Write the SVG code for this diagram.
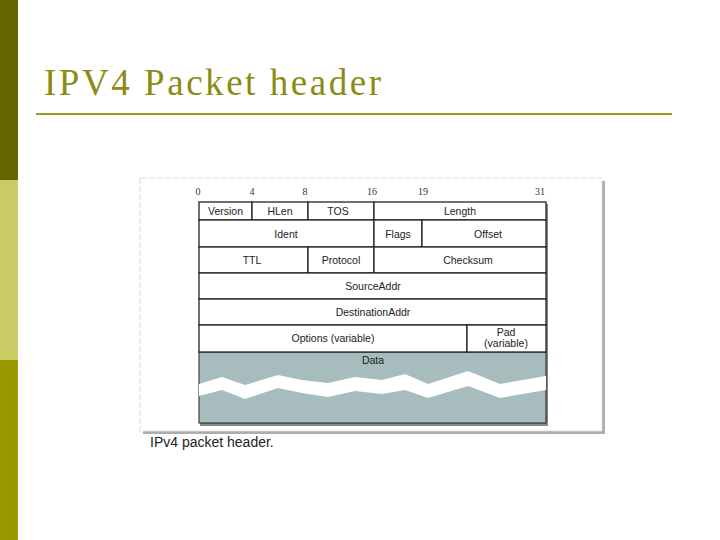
<svg xmlns="http://www.w3.org/2000/svg" width="720" height="540" viewBox="0 0 720 540">
<style>
.t{font-family:"Liberation Sans",Arial,sans-serif;font-size:10.5px;fill:#222;text-anchor:middle}
.n{font-family:"Liberation Serif",serif;font-size:10px;fill:#333;text-anchor:middle}
.c{fill:#fff;stroke:#222;stroke-width:1.3}
</style>
<rect width="720" height="540" fill="#fff"/>
<rect x="0" y="0" width="18" height="180" fill="#666600"/>
<rect x="0" y="180" width="18" height="180" fill="#cccc66"/>
<rect x="0" y="360" width="18" height="180" fill="#999900"/>
<text x="44" y="95" font-family="Liberation Serif,serif" font-size="37" fill="#8c8c14" textLength="337">IPV4 Packet header</text>
<line x1="36" y1="114" x2="672" y2="114" stroke="#9a9a20" stroke-width="2"/>
<g id="frame">
<rect x="143" y="181" width="462" height="253" fill="#777" opacity="0.6"/>
<rect x="140" y="178" width="462" height="253" fill="#fff" stroke="#ddd" stroke-dasharray="6 2"/>
<rect x="200" y="204" width="348" height="222" fill="#888"/>
</g>
<g id="numbers">
<text class="n" x="198" y="195">0</text><text class="n" x="252" y="195">4</text><text class="n" x="305" y="195">8</text>
<text class="n" x="372" y="195">16</text><text class="n" x="423" y="195">19</text><text class="n" x="540" y="195">31</text>
</g>
<g id="data">
<rect x="199" y="352" width="347" height="71" fill="#a7bcbc" stroke="#222"/>
<polygon points="199,384 222,377 245,385 278,375 302,380 328,383 355,377 382,380 405,374 428,384 468,371 500,384 546,376 546,390 500,398 468,386 428,398 405,390 382,394 355,391 328,397 302,393 278,388 245,399 222,390 199,396" fill="#fff"/>
<text class="t" x="373" y="364">Data</text>
</g>
<g id="row1">
<rect class="c" x="199" y="202" width="53" height="18"/><text class="t" x="225.5" y="215">Version</text>
<rect class="c" x="252" y="202" width="56" height="18"/><text class="t" x="280" y="215">HLen</text>
<rect class="c" x="308" y="202" width="66" height="18"/><text class="t" x="338" y="215">TOS</text>
<rect class="c" x="374" y="202" width="172" height="18"/><text class="t" x="460" y="215">Length</text>
</g>
<g id="row2">
<rect class="c" x="199" y="220" width="175" height="27"/><text class="t" x="286" y="238">Ident</text>
<rect class="c" x="374" y="220" width="48" height="27"/><text class="t" x="398" y="238">Flags</text>
<rect class="c" x="422" y="220" width="124" height="27"/><text class="t" x="488" y="238">Offset</text>
</g>
<g id="row3">
<rect class="c" x="199" y="247" width="109" height="26"/><text class="t" x="252" y="264">TTL</text>
<rect class="c" x="308" y="247" width="66" height="26"/><text class="t" x="341" y="264">Protocol</text>
<rect class="c" x="374" y="247" width="172" height="26"/><text class="t" x="468" y="264">Checksum</text>
</g>
<g id="row4"><rect class="c" x="199" y="273" width="347" height="26"/><text class="t" x="373" y="290">SourceAddr</text></g>
<g id="row5"><rect class="c" x="199" y="299" width="347" height="26"/><text class="t" x="373" y="316">DestinationAddr</text></g>
<g id="row6">
<rect class="c" x="199" y="325" width="268" height="27"/><text class="t" x="333" y="342">Options (variable)</text>
<rect class="c" x="467" y="325" width="79" height="27"/><text class="t" x="506" y="336">Pad</text><text class="t" x="506" y="347">(variable)</text>
</g>
<rect x="140" y="436" width="470" height="14" fill="#fff"/>
<text x="150" y="447" font-family="Liberation Sans,Arial,sans-serif" font-size="14" fill="#222">IPv4 packet header.</text>
</svg>
